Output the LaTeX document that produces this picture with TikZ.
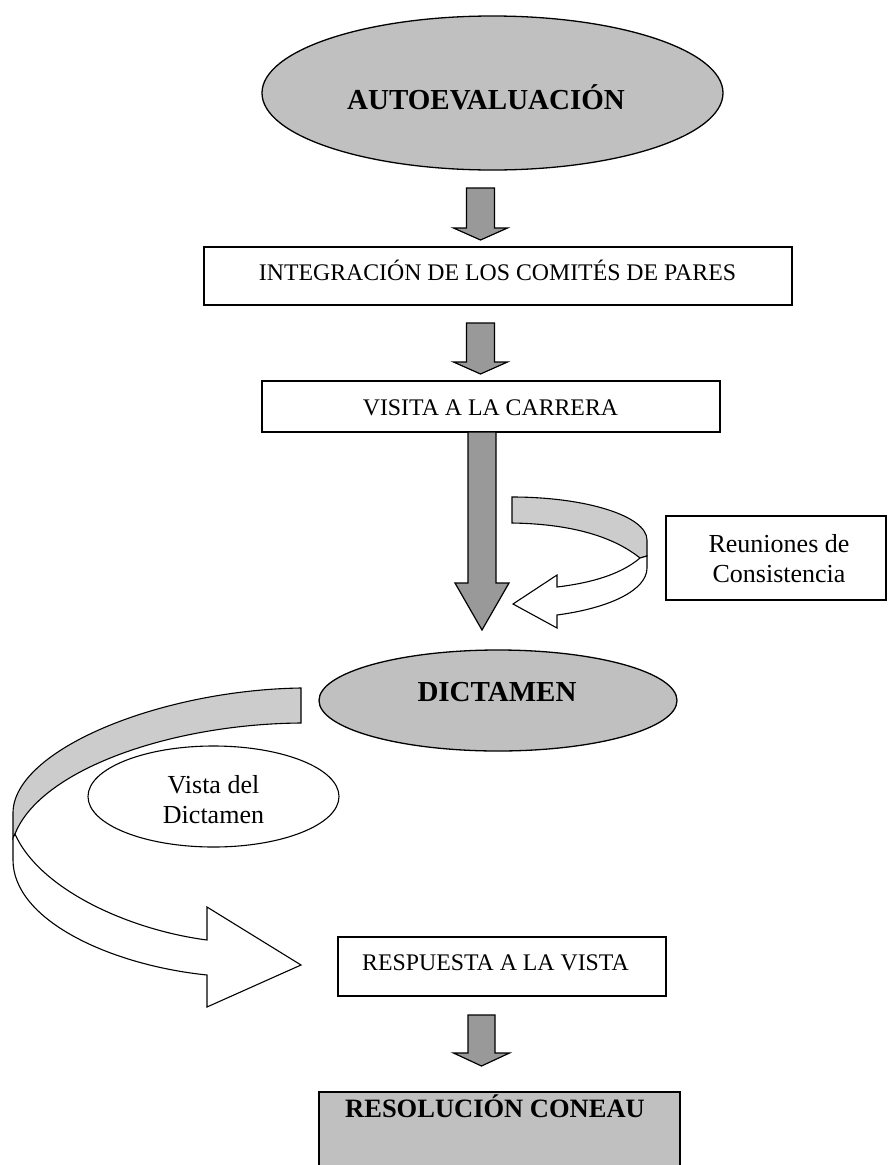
\documentclass[tikz,border=0pt]{standalone}
\usepackage{fontspec}
\setmainfont{Liberation Serif}
\usetikzlibrary{shapes.geometric}
\definecolor{ellgray}{HTML}{C0C0C0}
\definecolor{arrgray}{HTML}{999999}
\definecolor{bandgray}{HTML}{CCCCCC}
\newcommand{\blockarrow}[6]{% x, ytop, yhead, ytip, shaft half, head half
  \draw[blockarr] (#1-#5,#2) -- (#1+#5,#2) -- (#1+#5,#3) -- (#1+#6,#3) -- (#1,#4) -- (#1-#6,#3) -- (#1-#5,#3) -- cycle;}
\begin{document}
\begin{tikzpicture}[x=1pt,y=-1pt, line join=miter,
  outline/.style={draw=black, line width=1.3pt},
  ellnode/.style={outline, ellipse, fill=ellgray, inner sep=0pt},
  wellnode/.style={outline, ellipse, fill=white, inner sep=0pt, line width=1.1pt},
  boxnode/.style={outline, rectangle, fill=white, inner sep=0pt},
  blockarr/.style={draw=black, line width=1.2pt, fill=arrgray},
  bandback/.style={draw=black, line width=1.1pt, fill=bandgray},
  bandfront/.style={draw=black, line width=1.1pt, fill=white},
  boldbig/.style={font=\fontsize{29}{34}\selectfont\bfseries, inner sep=0pt},
  boldmid/.style={font=\fontsize{26.5}{30}\selectfont\bfseries, inner sep=0pt},
  caps/.style={font=\fontsize{23.8}{28}\selectfont, inner sep=0pt},
  small/.style={font=\fontsize{26}{30}\selectfont, inner sep=0pt}]
\useasboundingbox (0,0) rectangle (888,1165);
\clip (0,0) rectangle (888,1165);

% AUTOEVALUACION
\node[ellnode, minimum width=461pt, minimum height=154pt] (auto) at (492.5,93) {};
\node[boldbig, anchor=base] (autot) at (486,109) {AUTOEVALUACIÓN};
\blockarrow{480.5}{188}{228}{240}{14}{27}

% INTEGRACION
\node[boxnode, minimum width=588pt, minimum height=58pt] (integ) at (498,276) {};
\node[caps, anchor=base] (integt) at (497.5,280) {INTEGRACIÓN DE LOS COMITÉS DE PARES};
\blockarrow{480.5}{323}{362}{374}{14}{27}

% VISITA
\node[boxnode, minimum width=458pt, minimum height=51pt] (visita) at (491,406.5) {};
\node[caps, anchor=base] (visitat) at (490.5,415) {VISITA A LA CARRERA};

% long arrow
\blockarrow{482}{432}{583}{630}{14}{27}

% right curved arrow (Reuniones)
\draw[bandback] (512,497) .. controls (586,497) and (647,516) .. (647,540) -- (647,556) -- (640,558)
   .. controls (615,538) and (575,524) .. (512,523) -- cycle;
\draw[bandfront] (640,558) .. controls (620,575) and (590,583) .. (557,587) -- (557,575) -- (513,604)
   -- (557,628) -- (557,615) .. controls (610,608) and (647,590) .. (647,568) -- (647,556) -- cycle;

% Reuniones box
\node[boxnode, minimum width=220pt, minimum height=84pt] (reun) at (776,558) {};
\node[small, anchor=base] (reun1) at (779,552) {Reuniones de};
\node[small, anchor=base] (reun2) at (779,582) {Consistencia};

% DICTAMEN
\node[ellnode, minimum width=358pt, minimum height=101pt] (dict) at (498,700.5) {};
\node[boldbig, anchor=base] (dictt) at (497,701) {DICTAMEN};

% left curved arrow
\draw[bandback] (301,688) .. controls (160,690) and (13,750) .. (13,813) -- (13,838) -- (15,834)
   .. controls (40,770) and (170,724) .. (301,723) -- cycle;
\draw[bandfront] (15,834) .. controls (40,890) and (130,930) .. (207,940) -- (207,907) -- (301,965)
   -- (207,1007) -- (207,975) .. controls (110,965) and (13,920) .. (13,860) -- (13,838) -- cycle;

% Vista del Dictamen
\node[wellnode, minimum width=251pt, minimum height=101pt] (vista) at (213.5,796.5) {};
\node[small, anchor=base] (vista1) at (213.5,793) {Vista del};
\node[small, anchor=base] (vista2) at (213.5,823) {Dictamen};

% RESPUESTA
\node[boxnode, minimum width=328pt, minimum height=59pt] (resp) at (502,966.5) {};
\node[caps, anchor=base] (respt) at (495.5,970) {RESPUESTA A LA VISTA};
\blockarrow{481.5}{1015}{1053}{1066}{13.5}{28}

% RESOLUCION
\node[outline, rectangle, fill=ellgray, inner sep=0pt, minimum width=361pt, minimum height=83pt] (resol) at (499.5,1133.5) {};
\node[boldmid, anchor=base west] (resolt) at (345,1117) {RESOLUCIÓN CONEAU};
\end{tikzpicture}
\end{document}
